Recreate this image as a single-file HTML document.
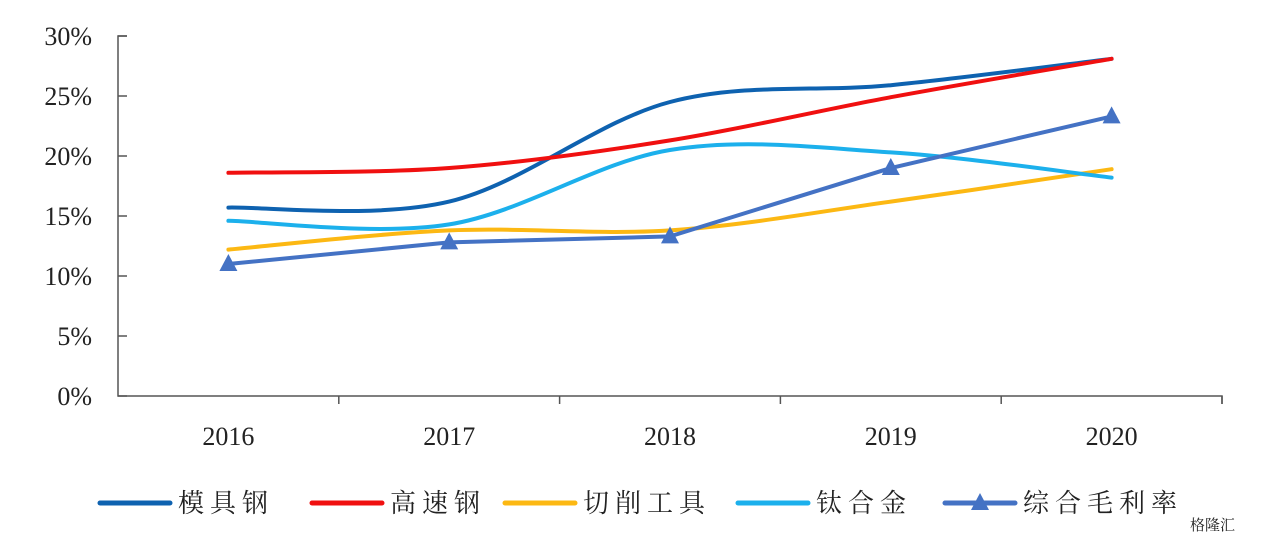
<!DOCTYPE html>
<html><head><meta charset="utf-8"><style>
body{margin:0;background:#fff;}
svg text{font-family:"Liberation Serif","Noto Serif CJK SC",serif;fill:#222;}
</style></head><body>
<svg id="chart" width="1267" height="540" viewBox="0 0 1267 540" xmlns="http://www.w3.org/2000/svg"></svg>
<script>
const categories=["2016","2017","2018","2019","2020"];
const yTicks=[0,5,10,15,20,25,30];
const mojugang=[15.7,16.2,24.5,25.9,28.1];
const gaosugang=[18.6,19.0,21.3,24.9,28.1];
const qiexiao=[12.2,13.8,13.8,16.2,18.9];
const taihejin=[14.6,14.3,20.5,20.3,18.2];
const zonghe=[11.0,12.8,13.3,19.0,23.3];
const seriesNames=["模具钢","高速钢","切削工具","钛合金","综合毛利率"];

const svg=document.getElementById('chart');
const NS='http://www.w3.org/2000/svg';
const x0=118,x1=1222,y0=396,yTop=36;
const bw=(x1-x0)/categories.length;
function xs(i){return x0+bw*(i+0.5);}
function ys(v){return y0-(v/30)*(y0-yTop);}
function mk(t,a){const e=document.createElementNS(NS,t);for(const k in a)e.setAttribute(k,a[k]);svg.appendChild(e);return e;}

const ax=mk('path',{d:`M${x0+9},${yTop}H${x0}V${y0}H${x1}V${y0+8}`,stroke:'#555','stroke-width':1.5,fill:'none'});


yTicks.forEach(t=>{
  const l=mk('line',{x1:x0,x2:x0+9,y1:ys(t),y2:ys(t),stroke:'#555','stroke-width':1.5});
  
  
  const tx=mk('text',{x:92,y:ys(t)+9,'text-anchor':'end','font-size':26});
  tx.textContent=t+'%';
  
  
});
for(let i=1;i<=categories.length;i++){
  const xx=x0+bw*i;
  const l=mk('line',{x1:xx,x2:xx,y1:y0,y2:y0+8,stroke:'#555','stroke-width':1.5});
  
  
}
categories.forEach((c,i)=>{
  const tx=mk('text',{x:xs(i),y:445,'text-anchor':'middle','font-size':26});
  tx.textContent=c;
  
  
});
function smooth(vals){
  const p=vals.map((v,i)=>[xs(i),ys(v)]);
  let d=`M${p[0][0]},${p[0][1]}`;const t=1/6;
  for(let i=0;i<p.length-1;i++){
    const a=p[Math.max(0,i-1)],b=p[i],c=p[i+1],e=p[Math.min(p.length-1,i+2)];
    d+=` C${b[0]+(c[0]-a[0])*t},${b[1]+(c[1]-a[1])*t} ${c[0]-(e[0]-b[0])*t},${c[1]-(e[1]-b[1])*t} ${c[0]},${c[1]}`;
  }
  return d;
}
function straight(vals){return vals.map((v,i)=>(i?'L':'M')+xs(i)+','+ys(v)).join(' ');}
const defs=[[mojugang,'#0e62b0','mojugang-line',true],[gaosugang,'#f01010','gaosugang-line',true],[qiexiao,'#fcb813','qiexiao-line',true],[taihejin,'#1cb0ec','taihejin-line',true],[zonghe,'#4472c4','zonghe-line',false]];
defs.forEach(([vals,col,name,sm])=>{
  const p=mk('path',{d:sm?smooth(vals):straight(vals),stroke:col,'stroke-width':4,fill:'none','stroke-linecap':'round'});
  
  
});
function tri(cx,cy){return `${cx},${cy-10} ${cx-9},${cy+7} ${cx+9},${cy+7}`;}
zonghe.forEach((v,i)=>{
  const m=mk('polygon',{points:tri(xs(i),ys(v)),fill:'#4472c4'});
  
  
});
const lx=[100,312,505,738,945];const cols=['#0e62b0','#f01010','#fcb813','#1cb0ec','#4472c4'];
seriesNames.forEach((n,i)=>{
  const l=mk('line',{x1:lx[i],x2:lx[i]+70,y1:503,y2:503,stroke:cols[i],'stroke-width':5,'stroke-linecap':'round'});
  
  
  if(i===4){const m=mk('polygon',{points:tri(lx[i]+35,503),fill:cols[i]});}
  const tx=mk('text',{x:lx[i]+78,y:512,'font-size':26,'letter-spacing':6});
  tx.textContent=n;
  
  
});
const wm=mk('text',{x:1190,y:530,'font-size':15,fill:'#bbb'});
wm.textContent='格隆汇';


</script>
</body></html>
